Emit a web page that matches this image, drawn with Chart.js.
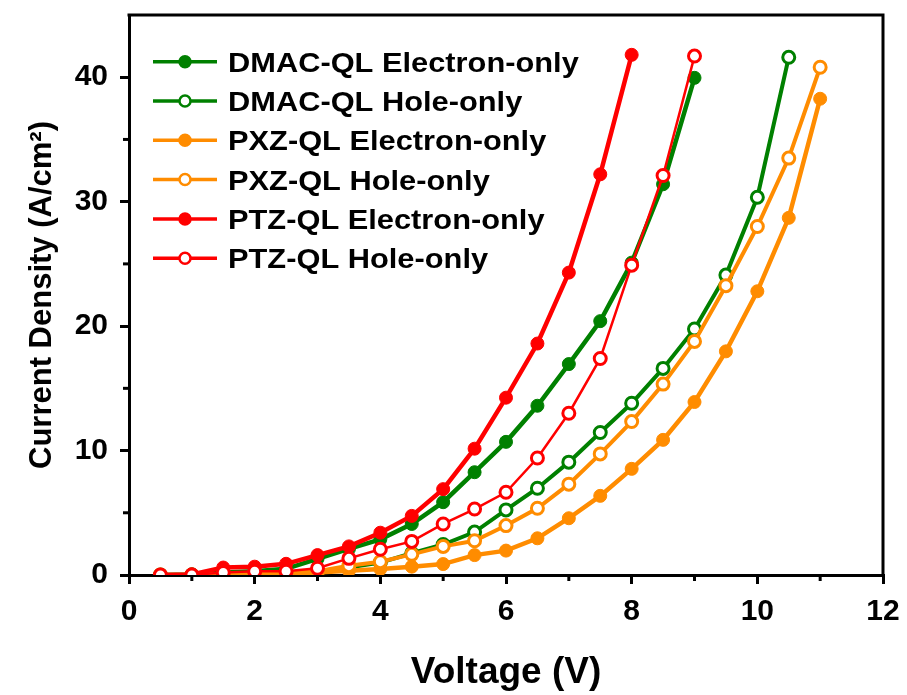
<!DOCTYPE html>
<html><head><meta charset="utf-8">
<script src="https://cdn.jsdelivr.net/npm/chart.js@4.4.1/dist/chart.umd.min.js"></script>
<style>html,body{margin:0;padding:0;background:#fff;}#wrap{width:907px;height:695px;}canvas{display:block;}</style>
</head><body>
<div id="wrap"><canvas id="c" width="907" height="695"></canvas></div>
<script>
// ---- data ----
const voltages = [0.5,1,1.5,2,2.5,3,3.5,4,4.5,5,5.5,6,6.5,7,7.5,8,8.5,9,9.5,10,10.5,11];
const seriesNames = ['DMAC-QL Electron-only','DMAC-QL Hole-only','PXZ-QL Electron-only','PXZ-QL Hole-only','PTZ-QL Electron-only','PTZ-QL Hole-only'];
const dmacElectron = [0,0.05,0.2,0.3,0.5,1.3,2.1,2.87,4.1,5.85,8.26,10.7,13.6,16.95,20.4,25.1,31.4,39.95];
const dmacHole = [0,0,0.05,0.1,0.15,0.3,0.6,1.0,1.75,2.45,3.45,5.23,6.97,9.07,11.45,13.8,16.6,19.77,24.1,30.35,41.6];
const pxzElectron = [0,0,0.05,0.05,0.1,0.2,0.35,0.48,0.67,0.88,1.6,1.96,2.95,4.56,6.36,8.53,10.86,13.9,17.97,22.8,28.7,38.27];
const pxzHole = [0,0,0.1,0.15,0.2,0.3,0.75,1.07,1.66,2.3,2.75,3.97,5.36,7.3,9.73,12.33,15.34,18.77,23.25,28.0,33.5,40.8];
const ptzElectron = [0,0.05,0.6,0.67,0.9,1.6,2.3,3.4,4.75,6.9,10.15,14.25,18.6,24.3,32.2,41.8];
const ptzHole = [0,0,0.2,0.3,0.3,0.54,1.34,2.07,2.7,4.1,5.3,6.65,9.4,13.0,17.4,24.9,32.1,41.7];
const xTickValues = [0,2,4,6,8,10,12];
const xMinorTickValues = [1,3,5,7,9,11];
const yTickValues = [0,10,20,30,40];
const yMinorTickValues = [5,15,25,35];

const GREEN = '#008000', ORANGE = '#FF8C00', RED = '#FF0000';
const FONT = '"Liberation Sans", Arial, Helvetica, sans-serif';

function pts(vals){ return vals.map((v,i)=>({x:voltages[i], y:v})); }
function ds(label, vals, color, filled, lw, order){
  return {label, data: pts(vals), borderColor: color, backgroundColor: color,
    pointBackgroundColor: filled ? color : '#ffffff', pointBorderColor: color,
    pointBorderWidth: filled ? 1 : 3, pointRadius: filled ? 6.5 : 6, pointHoverRadius: 6,
    borderWidth: lw, tension: 0, fill: false, order};
}
// later series drawn on top (lower order = on top)
const datasets = [
  ds(seriesNames[0], dmacElectron, GREEN, true, 4.5, 5),
  ds(seriesNames[1], dmacHole, GREEN, false, 4, 4),
  ds(seriesNames[2], pxzElectron, ORANGE, true, 4.5, 3),
  ds(seriesNames[3], pxzHole, ORANGE, false, 4, 2),
  ds(seriesNames[4], ptzElectron, RED, true, 4.5, 1),
  ds(seriesNames[5], ptzHole, RED, false, 2.5, 0)
];

const framePlugin = {
  id: 'frame',
  afterDraw(chart){
    const ctx = chart.ctx, a = chart.chartArea;
    const xs = chart.scales.x, ys = chart.scales.y;
    ctx.save();
    ctx.strokeStyle = '#000'; ctx.lineWidth = 3; ctx.lineCap = 'square';
    ctx.beginPath(); ctx.moveTo(a.left, a.top); ctx.lineTo(a.right, a.top); ctx.lineTo(a.right, a.bottom); ctx.stroke();
    ctx.lineCap = 'butt';
    xMinorTickValues.forEach(v=>{ const px = xs.getPixelForValue(v); ctx.beginPath(); ctx.moveTo(px, a.bottom); ctx.lineTo(px, a.bottom+6); ctx.stroke(); });
    yMinorTickValues.forEach(v=>{ const py = ys.getPixelForValue(v); ctx.beginPath(); ctx.moveTo(a.left, py); ctx.lineTo(a.left-6, py); ctx.stroke(); });
    ctx.restore();
  }
};
const legendPlugin = {
  id: 'customLegend',
  afterDraw(chart){
    const ctx = chart.ctx;
    chart.data.datasets.forEach((d,i)=>{
      const y = 61.7 + i*39.3;
      ctx.save();
      ctx.strokeStyle = d.borderColor; ctx.lineWidth = 3.5;
      ctx.beginPath(); ctx.moveTo(153, y); ctx.lineTo(217, y); ctx.stroke();
      ctx.beginPath(); ctx.arc(185, y, 5.5, 0, 2*Math.PI);
      ctx.fillStyle = d.pointBackgroundColor; ctx.fill();
      ctx.lineWidth = 2.5; ctx.stroke();
      ctx.fillStyle = '#000'; ctx.textBaseline = 'alphabetic';
      ctx.font = 'bold 28px ' + FONT;
      ctx.translate(228, y + 10); ctx.scale(1.1, 1);
      ctx.fillText(d.label, 0, 0);
      ctx.restore();
    });
  }
};

new Chart(document.getElementById('c'), {
  type: 'line',
  data: { datasets },
  options: {
    responsive: false, animation: false, devicePixelRatio: 1,
    layout: { padding: { top: 15, right: 24, left: 0, bottom: 0 } },
    plugins: { legend: { display: false }, tooltip: { enabled: false } },
    scales: {
      x: {
        type: 'linear', min: 0, max: 12,
        afterBuildTicks: s => { s.ticks = xTickValues.map(v=>({value:v})); },
        afterFit: s => { s.height = 120; s.paddingLeft = 0; s.paddingRight = 0; },
        grid: { drawOnChartArea: false, drawTicks: true, tickLength: 9, tickWidth: 3, tickColor: '#000', color: '#000', lineWidth: 3 },
        border: { display: true, color: '#000', width: 3 },
        ticks: { color: '#000', font: { family: FONT, size: 30, weight: 'bold' }, padding: 10, maxRotation: 0 },
        title: { display: true, text: 'Voltage (V)', color: '#000', font: { family: FONT, size: 37, weight: 'bold' }, padding: { top: 0, bottom: 0 } }
      },
      y: {
        type: 'linear', min: 0, max: 45,
        afterBuildTicks: s => { s.ticks = yTickValues.map(v=>({value:v})); },
        afterFit: s => { s.width = 129; s.paddingTop = 0; s.paddingBottom = 0; },
        grid: { drawOnChartArea: false, drawTicks: true, tickLength: 9, tickWidth: 3, tickColor: '#000', color: '#000', lineWidth: 3 },
        border: { display: true, color: '#000', width: 3 },
        ticks: { color: '#000', font: { family: FONT, size: 30, weight: 'bold' }, padding: 12 },
        title: { display: true, text: 'Current Density (A/cm²)', color: '#000', font: { family: FONT, size: 31, weight: 'bold' }, padding: { top: 24, bottom: 24 } }
      }
    }
  },
  plugins: [framePlugin, legendPlugin]
});
</script>
</body></html>
